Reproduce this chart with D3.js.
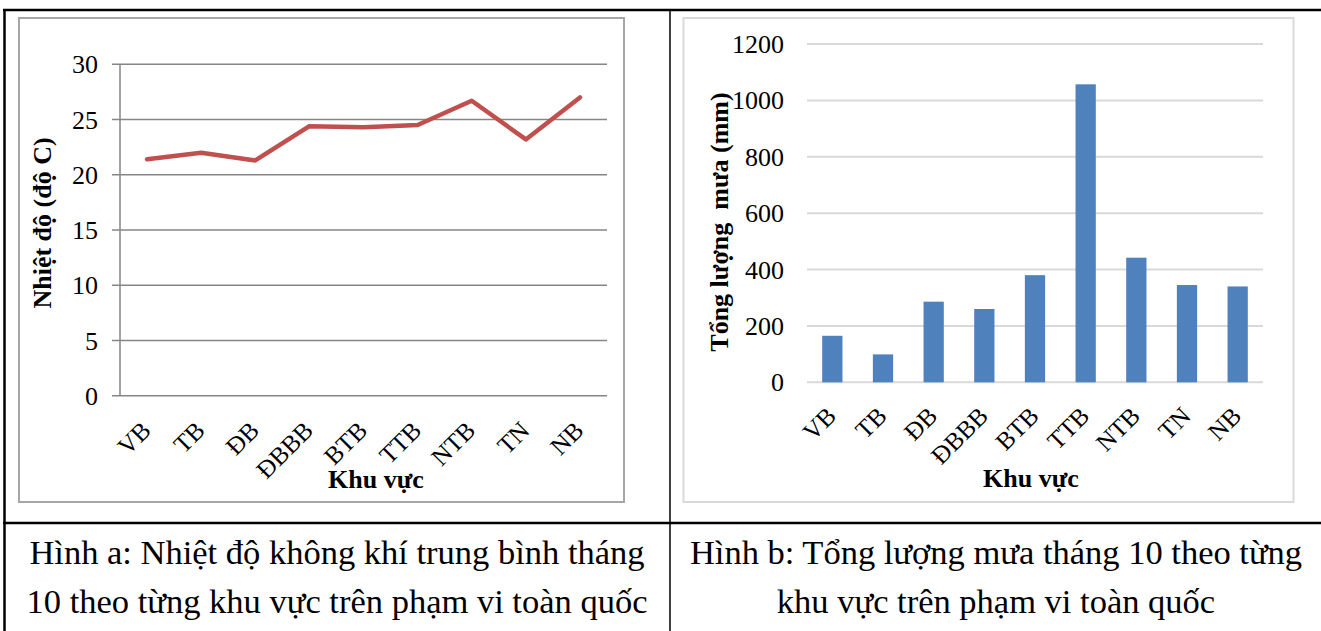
<!DOCTYPE html>
<html>
<head>
<meta charset="utf-8">
<script src="https://cdn.jsdelivr.net/npm/d3@7"></script>
<style>
  body { margin: 0; background: #fff; }
  svg text { font-family: "Liberation Serif", "Times New Roman", serif; fill: #000; }
</style>
</head>
<body>
<div id="chart"></div>
<script>
// Khu vực (regions)
const regions = ["VB", "TB", "ĐB", "ĐBBB", "BTB", "TTB", "NTB", "TN", "NB"];
// Hình a: nhiệt độ trung bình tháng 10 (độ C)
const temperature = [21.4, 22.0, 21.3, 24.4, 24.3, 24.5, 26.7, 23.2, 27.0];
// Hình b: tổng lượng mưa tháng 10 (mm)
const rainfall = [165, 99, 286, 260, 380, 1057, 442, 345, 340];
const tempTicks = [0, 5, 10, 15, 20, 25, 30];
const rainTicks = [0, 200, 400, 600, 800, 1000, 1200];
const captionA = ["Hình a: Nhiệt độ không khí trung bình tháng", "10 theo từng khu vực trên phạm vi toàn quốc"];
const captionB = ["Hình b: Tổng lượng mưa tháng 10 theo từng", "khu vực trên phạm vi toàn quốc"];

const width = 1321, height = 631;

const svg = d3.select("#chart").append("svg")
    .attr("width", width)
    .attr("height", height)
    .style("background", "white");

// table lines
svg.append("line").attr("x1", 3).attr("x2", width).attr("y1", 10).attr("y2", 10)
    .attr("stroke", "#000").attr("stroke-width", 2.5);
svg.append("line").attr("x1", 4.5).attr("x2", 4.5).attr("y1", 9).attr("y2", height)
    .attr("stroke", "#000").attr("stroke-width", 2.5);
svg.append("line").attr("x1", 670).attr("x2", 670).attr("y1", 10).attr("y2", height)
    .attr("stroke", "#000").attr("stroke-width", 1.5);
svg.append("line").attr("x1", 3).attr("x2", width).attr("y1", 523).attr("y2", 523)
    .attr("stroke", "#000").attr("stroke-width", 2.5);

// ---- Hình a: line chart ----
svg.append("rect")
    .attr("x", 19).attr("y", 18).attr("width", 605).attr("height", 484)
    .attr("fill", "none").attr("stroke", "#a6a6a6").attr("stroke-width", 2);

const xA = d3.scaleBand().domain(regions).range([120, 607]);
const yA = d3.scaleLinear().domain([0, 30]).range([395.7, 64.3]);

const gridA = svg.append("g");
tempTicks.forEach(t => {
    gridA.append("line")
        .attr("x1", 112).attr("x2", 607)
        .attr("y1", yA(t)).attr("y2", yA(t))
        .attr("stroke", "#868686").attr("stroke-width", 1.5);
    gridA.append("text")
        .attr("x", 98).attr("y", yA(t))
        .attr("dy", "0.35em")
        .attr("text-anchor", "end")
        .attr("font-size", "26px")
        .text(t);
});
svg.append("line")
    .attr("x1", 120).attr("x2", 120).attr("y1", yA(30)).attr("y2", yA(0))
    .attr("stroke", "#868686").attr("stroke-width", 1.5);

const line = d3.line()
    .x((d, i) => xA(regions[i]) + xA.bandwidth() / 2)
    .y(d => yA(d));

svg.append("path")
    .datum(temperature)
    .attr("d", line)
    .attr("fill", "none")
    .attr("stroke", "#c0504d")
    .attr("stroke-width", 4.5)
    .attr("stroke-linejoin", "round")
    .attr("stroke-linecap", "round");

regions.forEach(r => {
    const cx = xA(r) + xA.bandwidth() / 2;
    svg.append("text")
        .attr("transform", `translate(${cx - 1},${yA(0) + 30}) rotate(-45)`)
        .attr("text-anchor", "end")
        .attr("dy", "0.35em")
        .attr("font-size", "25px")
        .text(r);
});

svg.append("text")
    .attr("x", 376).attr("y", 488)
    .attr("text-anchor", "middle")
    .attr("font-size", "26px")
    .attr("font-weight", "bold")
    .text("Khu vực");

svg.append("text")
    .attr("transform", "translate(51,223) rotate(-90)")
    .attr("text-anchor", "middle")
    .attr("font-size", "26px")
    .attr("font-weight", "bold")
    .text("Nhiệt độ (độ C)");

// ---- Hình b: bar chart ----
svg.append("rect")
    .attr("x", 683.5).attr("y", 18).attr("width", 610).attr("height", 484)
    .attr("fill", "none").attr("stroke", "#d9d9d9").attr("stroke-width", 2);

const xB = d3.scaleBand().domain(regions).range([807, 1263]).paddingInner(0.6).paddingOuter(0.3);
const yB = d3.scaleLinear().domain([0, 1200]).range([382.3, 44]);

rainTicks.forEach(t => {
    svg.append("line")
        .attr("x1", 807).attr("x2", 1263)
        .attr("y1", yB(t)).attr("y2", yB(t))
        .attr("stroke", "#d9d9d9").attr("stroke-width", 2);
    svg.append("text")
        .attr("x", 784).attr("y", yB(t))
        .attr("dy", "0.35em")
        .attr("text-anchor", "end")
        .attr("font-size", "26px")
        .text(t);
});

svg.selectAll(".bar")
    .data(rainfall)
    .enter().append("rect")
    .attr("class", "bar")
    .attr("x", (d, i) => xB(regions[i]))
    .attr("y", d => yB(d))
    .attr("width", xB.bandwidth())
    .attr("height", d => yB(0) - yB(d))
    .attr("fill", "#4f81bd");

regions.forEach(r => {
    const cx = xB(r) + xB.bandwidth() / 2;
    svg.append("text")
        .attr("transform", `translate(${cx - 1},${yB(0) + 29}) rotate(-45)`)
        .attr("text-anchor", "end")
        .attr("dy", "0.35em")
        .attr("font-size", "25px")
        .text(r);
});

svg.append("text")
    .attr("x", 1031).attr("y", 487)
    .attr("text-anchor", "middle")
    .attr("font-size", "26px")
    .attr("font-weight", "bold")
    .text("Khu vực");

svg.append("text")
    .attr("transform", "translate(728,222) rotate(-90)")
    .attr("text-anchor", "middle")
    .attr("font-size", "26px")
    .attr("font-weight", "bold")
    .style("white-space", "pre")
    .text("Tổng lượng  mưa (mm)");

// ---- captions ----
captionA.forEach((s, i) => {
    svg.append("text")
        .attr("x", 337).attr("y", 564 + i * 49)
        .attr("text-anchor", "middle")
        .attr("font-size", "34.5px")
        .text(s);
});
captionB.forEach((s, i) => {
    svg.append("text")
        .attr("x", 996).attr("y", 564 + i * 49)
        .attr("text-anchor", "middle")
        .attr("font-size", "34.5px")
        .text(s);
});
</script>
</body>
</html>
